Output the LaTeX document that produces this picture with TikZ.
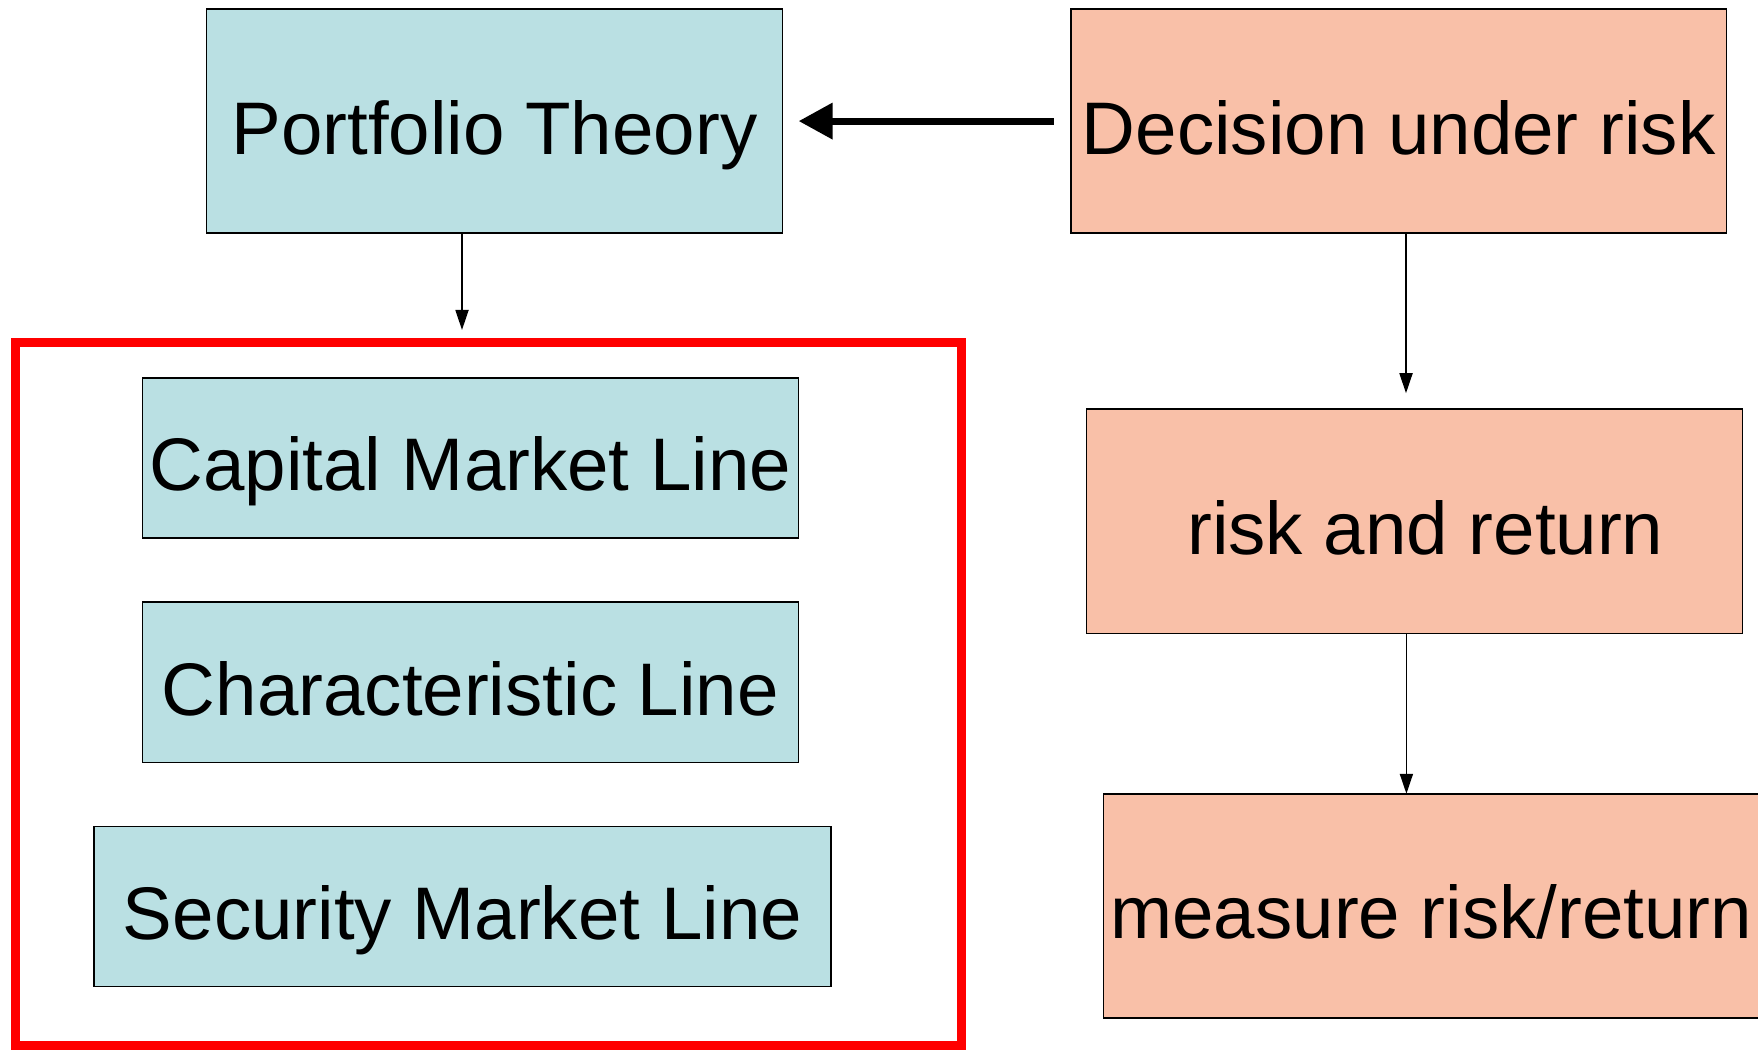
\documentclass[tikz,border=0pt]{standalone}
\usepackage{fontspec}
\setmainfont{Liberation Sans}
\usetikzlibrary{arrows.meta,calc}
\definecolor{boxblue}{RGB}{186,224,227}
\definecolor{boxpeach}{RGB}{249,192,168}
\begin{document}
\begin{tikzpicture}[x=1pt,y=1pt,
  base/.style={draw=black,line width=1.5pt,inner sep=0pt,outer sep=0pt,
    font=\fontsize{74.5}{89}\selectfont,text height=70pt,text depth=4pt},
  bluebox/.style={base,fill=boxblue},
  peachbox/.style={base,fill=boxpeach},
  thin/.style={draw=black,line width=1.8pt,-{Triangle[length=20pt,width=13pt]}},
  thick/.style={draw=black,line width=7pt,-{Triangle[length=34pt,width=35pt]}}]
\useasboundingbox (0,0) rectangle (1758,1049);
\fill[white] (0,0) rectangle (1758,1049);
\node[bluebox,minimum width=576.3pt,minimum height=224.2pt] (port) at (494.5,927.9) {Portfolio Theory};
\node[peachbox,minimum width=655.9pt,minimum height=224.2pt] (dec) at (1398.7,927.9) {Decision under risk};
\node[draw=red,line width=9pt,minimum width=945.3pt,minimum height=702pt,inner sep=0pt,outer sep=0pt] (group) at (488.4,355) {};
\node[bluebox,minimum width=655.9pt,minimum height=160.4pt] (cml) at (470.4,591) {Capital Market Line};
\node[bluebox,minimum width=655.9pt,minimum height=160.4pt] (cl) at (470.4,366.7) {Characteristic Line};
\node[bluebox,minimum width=736.6pt,minimum height=160.4pt] (sml) at (462.5,142.5) {Security Market Line};
\node[peachbox,minimum width=656pt,minimum height=224.3pt] (rr) at (1414.4,527.6) {\hspace*{22pt}risk and return};
\node[peachbox,minimum width=656pt,minimum height=224.2pt] (mrr) at (1431.3,143.1) {measure risk/return};
\draw[thick,shorten <=17pt,shorten >=16pt] (dec.west) -- (port.east);
\draw[thin,shorten >=13pt] ([xshift=-32.5pt]port.south) -- ([xshift=-32.5pt]port.south |- group.north);
\draw[thin,shorten >=16pt] ([xshift=7.3pt]dec.south) -- ([xshift=7.3pt]dec.south |- rr.north);
\draw[thin] ([xshift=-8pt]rr.south) -- ([xshift=-8pt]rr.south |- mrr.north);
\end{tikzpicture}
\end{document}
